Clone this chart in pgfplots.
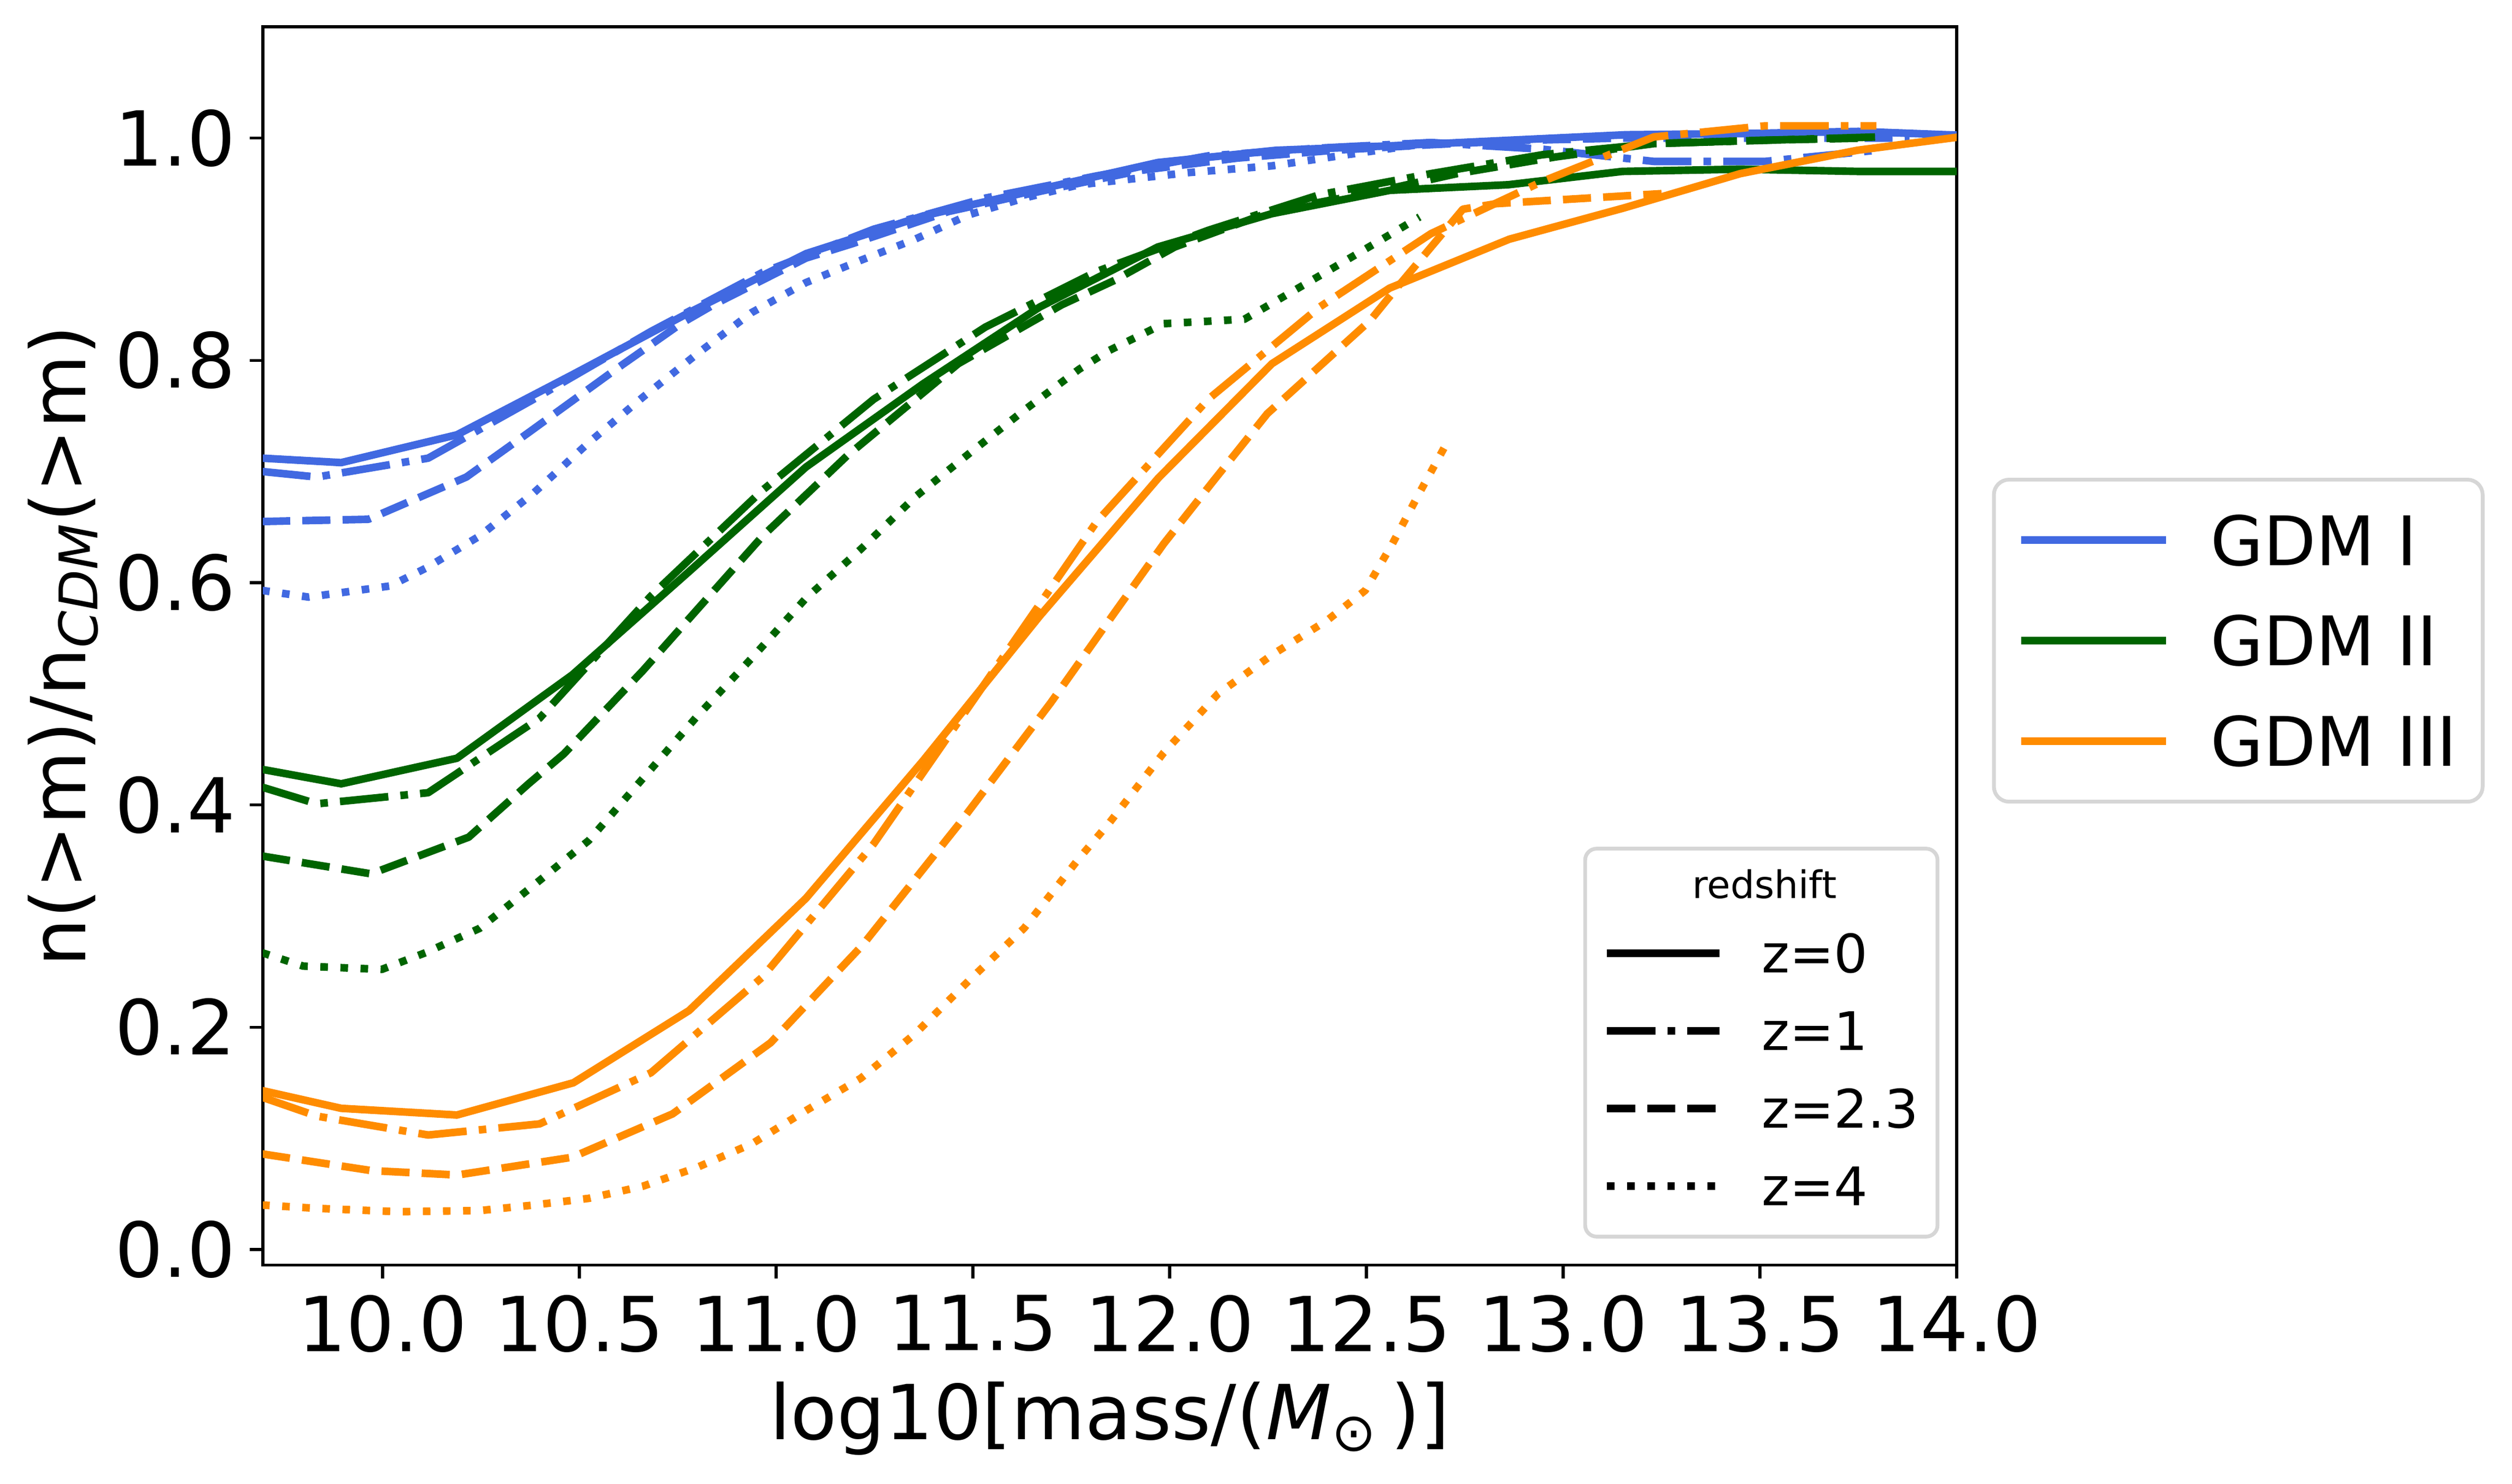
\documentclass[border=0pt]{standalone}
\usepackage{pgfplots}
\pgfplotsset{compat=1.18}
\usepackage{fontspec}
\setmainfont{DejaVu Sans}
\usetikzlibrary{calc}
\definecolor{rblue}{HTML}{4169E1}
\definecolor{dgreen}{HTML}{006400}
\definecolor{dorange}{HTML}{FF8C00}
\definecolor{legframe}{gray}{0.84}
\tikzset{
  zsolid/.style={solid},
  zdashdot/.style={dash pattern=on 12.8pt off 3.2pt on 2pt off 3.2pt},
  zdashed/.style={dash pattern=on 7.4pt off 3.2pt},
  zdotted/.style={dash pattern=on 2pt off 3.3pt},
}
\begin{document}
\begin{tikzpicture}
\path[use as bounding box] (-69.27pt,-57.68pt) rectangle (592.6pt,333.3pt);
\begin{axis}[
  at={(0pt,0pt)}, anchor=south west,
  scale only axis, width=446.3pt, height=326.2pt,
  xmin=9.696, xmax=14.0, ymin=-0.014, ymax=1.1,
  xtick={10,10.5,11,11.5,12,12.5,13,13.5,14},
  ytick={0,0.2,0.4,0.6,0.8,1.0},
  tick align=outside, tick pos=left, major tick length=3.5pt,
  every tick/.style={black, line width=0.8pt},
  axis line style={line width=0.8pt},
  tick label style={font=\fontsize{20}{24}\selectfont},
  xticklabel style={inner sep=0pt, yshift=-4.2pt},
  yticklabel style={inner sep=0pt, xshift=-3.5pt},
  /pgf/number format/fixed, /pgf/number format/fixed zerofill,
  /pgf/number format/precision=1, /pgf/number format/assume math mode=true,
  xlabel={log10[mass/(\textit{M}\textsubscript{⊙}\,)]},
  xlabel style={font=\fontsize{20}{24}\selectfont, at={(axis description cs:0.5,0)}, anchor=base, yshift=-45.9pt},
  ylabel={n(>m)/n\textsubscript{\textit{CDM}}(>m)},
  ylabel style={font=\fontsize{20}{24}\selectfont, at={($(axis description cs:0,0.5)+(-46.8pt,0pt)$)}, anchor=base},
  every axis plot/.append style={line width=2pt, line join=round, forget plot},
  legend image code/.code={\draw[#1, line width=2pt] (0pt,0pt) -- (38.1pt,0pt);},
  legend cell align=left,
  legend style={at={(1.0208,0.5043)}, anchor=west, draw=legframe, line width=1pt,
    rounded corners=4pt, fill=white, inner xsep=6.2pt, inner ysep=2.75pt, column sep=10.3pt,
    nodes={inner xsep=0.5pt, inner ysep=0pt, text height=19.8pt, text depth=6.65pt,
      font=\fontsize{18}{21.6}\selectfont}},
]
% ---------------- GDM I (blue) ----------------
\addplot[rblue, zsolid] coordinates {(9.694,0.712) (9.895,0.708) (10.189,0.733) (10.482,0.787) (10.779,0.843) (11.076,0.896) (11.374,0.930) (11.67,0.954) (11.97,0.978) (12.27,0.989) (12.56,0.993) (12.86,0.998) (13.16,1.003) (13.45,1.004) (13.75,1.006) (14.05,1.002)};
\addplot[rblue, zdashdot] coordinates {(9.694,0.700) (9.833,0.695) (10.116,0.712) (10.399,0.768) (10.682,0.826) (10.965,0.879) (11.248,0.918) (11.532,0.946) (11.815,0.966) (12.098,0.984) (12.381,0.991) (12.664,0.996) (12.947,0.990) (13.23,0.979) (13.513,0.979) (13.796,0.989)};
\addplot[rblue, zdashed] coordinates {(9.694,0.655) (9.964,0.657) (10.213,0.695) (10.371,0.735) (10.593,0.792) (10.758,0.833) (10.841,0.850) (11.076,0.892) (11.194,0.905) (11.439,0.934) (11.683,0.953) (11.928,0.971) (12.172,0.982) (12.417,0.989) (12.662,0.994) (12.906,0.998) (13.151,1.0) (13.395,1.0) (13.64,1.0) (13.88,1.0)};
\addplot[rblue, zdotted] coordinates {(9.694,0.593) (9.812,0.587) (10.019,0.597) (10.11,0.613) (10.247,0.642) (10.385,0.681) (10.524,0.726) (10.662,0.767) (10.80,0.806) (10.938,0.843) (11.076,0.870) (11.215,0.890) (11.353,0.909) (11.49,0.931) (11.63,0.946) (11.77,0.958) (11.847,0.961) (12.05,0.969) (12.26,0.975) (12.45,0.985) (12.65,0.995)};
% ---------------- GDM II (green) ----------------
\addplot[dgreen, zsolid] coordinates {(9.694,0.432) (9.895,0.419) (10.189,0.442) (10.482,0.517) (10.779,0.610) (11.076,0.704) (11.374,0.779) (11.67,0.848) (11.97,0.902) (12.26,0.932) (12.56,0.953) (12.86,0.958) (13.15,0.970) (13.45,0.972) (13.75,0.970) (14.05,0.970)};
\addplot[dgreen, zdashdot] coordinates {(9.694,0.416) (9.833,0.401) (10.116,0.411) (10.399,0.478) (10.682,0.588) (10.965,0.683) (11.248,0.765) (11.532,0.830) (11.815,0.880) (12.098,0.917) (12.381,0.949) (12.664,0.968) (12.947,0.985) (13.23,0.995) (13.513,0.998) (13.796,1.001)};
\addplot[dgreen, zdashed] coordinates {(9.694,0.354) (9.971,0.338) (10.219,0.371) (10.371,0.419) (10.461,0.446) (10.662,0.521) (10.80,0.576) (10.966,0.642) (11.18,0.714) (11.463,0.797) (11.726,0.850) (11.86,0.872) (12.013,0.902) (12.26,0.934) (12.54,0.953) (12.73,0.968) (12.98,0.983) (13.23,0.995) (13.5,0.998) (13.77,1.0)};
\addplot[dgreen, zdotted] coordinates {(9.694,0.267) (9.798,0.255) (9.998,0.252) (10.109,0.267) (10.247,0.289) (10.385,0.328) (10.524,0.368) (10.662,0.424) (10.80,0.480) (10.938,0.532) (11.076,0.586) (11.215,0.630) (11.353,0.677) (11.49,0.716) (11.63,0.755) (11.77,0.792) (11.847,0.809) (11.985,0.833) (12.19,0.837) (12.40,0.880) (12.54,0.909) (12.635,0.929)};
% ---------------- GDM III (orange) ----------------
\addplot[dorange, zsolid] coordinates {(9.694,0.143) (9.895,0.127) (10.189,0.121) (10.485,0.150) (10.779,0.215) (11.076,0.316) (11.374,0.440) (11.67,0.570) (11.971,0.694) (12.26,0.797) (12.559,0.865) (12.863,0.909) (13.153,0.937) (13.45,0.968) (13.747,0.989) (14.05,1.003)};
\addplot[dorange, zdashdot] coordinates {(9.694,0.137) (9.833,0.120) (10.116,0.103) (10.399,0.113) (10.682,0.159) (10.965,0.245) (11.248,0.365) (11.532,0.510) (11.815,0.655) (12.098,0.765) (12.381,0.848) (12.664,0.914) (12.947,0.961) (13.23,1.001) (13.513,1.011) (13.796,1.011)};
\addplot[dorange, zdashed] coordinates {(9.694,0.086) (9.971,0.071) (10.19,0.067) (10.482,0.083) (10.737,0.122) (10.986,0.186) (11.22,0.274) (11.463,0.382) (11.698,0.492) (11.86,0.573) (11.985,0.635) (12.11,0.691) (12.248,0.752) (12.51,0.836) (12.572,0.863) (12.745,0.936) (12.83,0.941) (13.25,0.950)};
\addplot[dorange, zdotted] coordinates {(9.694,0.040) (9.833,0.037) (10.04,0.034) (10.247,0.035) (10.385,0.040) (10.524,0.046) (10.662,0.057) (10.80,0.074) (10.938,0.095) (11.076,0.125) (11.215,0.154) (11.353,0.194) (11.49,0.242) (11.63,0.289) (11.77,0.352) (11.847,0.384) (11.985,0.447) (12.123,0.500) (12.26,0.535) (12.40,0.566) (12.497,0.593) (12.566,0.635) (12.635,0.681) (12.711,0.730)};
% legend: models
\addlegendimage{rblue, solid}\addlegendentry{GDM I}
\addlegendimage{dgreen, solid}\addlegendentry{GDM II}
\addlegendimage{dorange, solid}\addlegendentry{GDM III}
\end{axis}
% second axis: redshift legend only
\begin{axis}[
  at={(0pt,0pt)}, anchor=south west,
  scale only axis, width=446.3pt, height=326.2pt,
  xmin=0, xmax=1, ymin=0, ymax=1, hide axis,
  legend image code/.code={\draw[#1, line width=2pt] (0pt,0pt) -- (29.7pt,0pt);},
  legend cell align=left,
  legend style={at={(0.7795,0.02146)}, anchor=south west, draw=legframe, line width=1pt,
    rounded corners=3pt, fill=white, inner xsep=4.75pt, inner ysep=3.1pt, column sep=9.9pt,
    nodes={inner xsep=0.2pt, inner ysep=0pt, text height=15.33pt, text depth=5.12pt,
      font=\fontsize{14}{16.8}\selectfont}},
]
\addlegendimage{empty legend}
\addlegendentry[text height=10pt, text depth=4.2pt, font=\fontsize{10}{12}\selectfont]{\hspace*{0.7pt}\makebox[0pt][c]{redshift}}
\addlegendimage{black, zsolid}\addlegendentry{z=0}
\addlegendimage{black, zdashdot}\addlegendentry{z=1}
\addlegendimage{black, zdashed}\addlegendentry{z=2.3}
\addlegendimage{black, zdotted}\addlegendentry{z=4}
\end{axis}
\end{tikzpicture}
\end{document}
